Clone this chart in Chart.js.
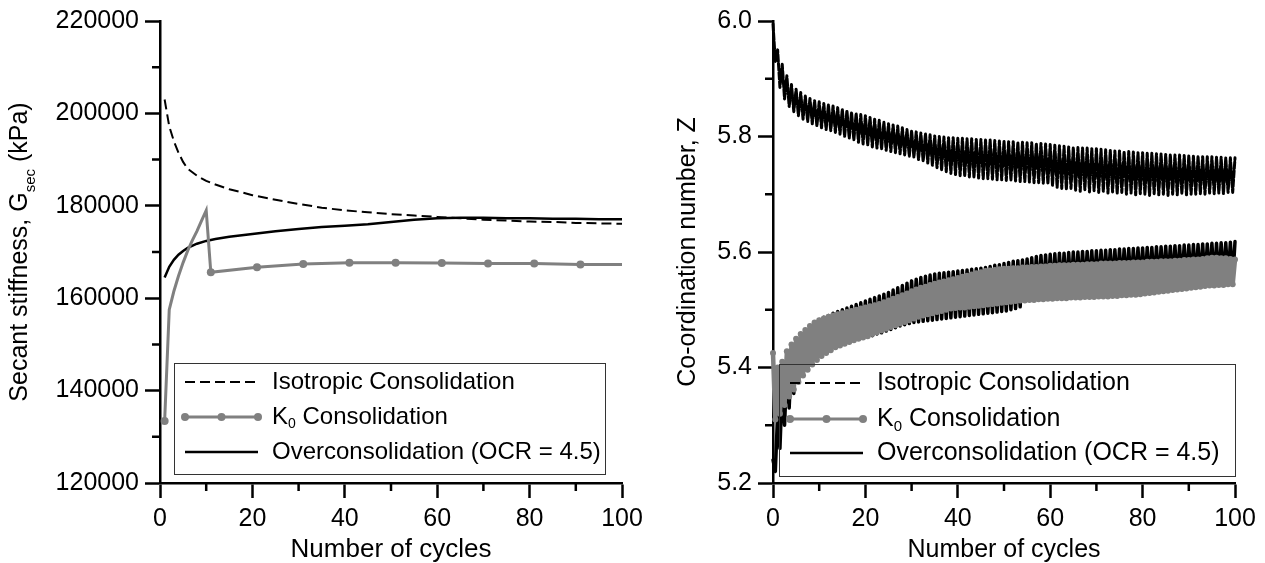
<!DOCTYPE html>
<html>
<head>
<meta charset="utf-8">
<script src="https://cdn.jsdelivr.net/npm/chart.js@4.4.1/dist/chart.umd.min.js"></script>
<style>
  html, body { margin: 0; padding: 0; background: #fff; }
  #wrap { position: relative; width: 1265px; height: 563px; }
  #wrap canvas { position: absolute; left: 0; top: 0; }
</style>
</head>
<body>
<div id="wrap">
  <canvas id="stiffChart" width="1265" height="563"></canvas>
  <canvas id="coordChart" width="1265" height="563"></canvas>
</div>
<script>
const FONT = "'Liberation Sans', Arial, sans-serif";

const seriesNames = ['Isotropic Consolidation', 'K0 Consolidation', 'Overconsolidation (OCR = 4.5)'];

// axis ticks
const cycleTicks = [0, 20, 40, 60, 80, 100];
const cycleMinorTicks = [10, 30, 50, 70, 90];
const stiffTicks = [120000, 140000, 160000, 180000, 200000, 220000];
const stiffMinorTicks = [130000, 150000, 170000, 190000, 210000];
const coordTicks = [5.2, 5.4, 5.6, 5.8, 6.0];
const coordMinorTicks = [5.3, 5.5, 5.7, 5.9];

// left panel: secant stiffness (kPa) against cycle number
const isoCycles = [1, 2, 3, 4, 5, 6, 8, 10, 12, 15, 20, 25, 30, 35, 40, 45, 50, 55, 60, 65, 70, 75, 80, 85, 90, 95, 100];
const isoStiffness = [203000, 197200, 194000, 191500, 189500, 188000, 186500, 185400, 184600, 183600, 182300, 181300, 180400,
  179600, 179000, 178600, 178200, 177900, 177600, 177300, 177000, 176800, 176600, 176500, 176300, 176200, 176100];
const ocCycles = [1, 2, 3, 4, 5, 6, 8, 10, 12, 15, 20, 25, 30, 35, 40, 45, 50, 55, 60, 65, 70, 75, 80, 85, 90, 95, 100];
const ocStiffness = [164500, 166800, 168300, 169400, 170200, 170900, 171800, 172400, 172800, 173300, 173900, 174500, 175000,
  175400, 175700, 176000, 176500, 177000, 177300, 177400, 177400, 177300, 177300, 177200, 177200, 177100, 177100];
const k0Cycles = [1, 2, 3, 4, 5, 6, 7, 8, 9, 10, 11, 21, 31, 41, 51, 61, 71, 81, 91, 100];
const k0Stiffness = [133400, 157500, 161500, 164800, 167700, 170300, 172500, 174500, 176800, 179000, 165600,
  166700, 167400, 167700, 167700, 167600, 167500, 167500, 167300, 167300];
const k0MarkerCycles = [1, 11, 21, 31, 41, 51, 61, 71, 81, 91];

// right panel: co-ordination number, peak (whole cycle) and trough (half cycle) values
const isoZPeaks = [5.995, 5.95, 5.925, 5.905, 5.89, 5.882, 5.876, 5.87, 5.866, 5.862, 5.86,
  5.857, 5.855, 5.853, 5.85, 5.847, 5.845, 5.842, 5.84, 5.838, 5.836,
  5.833, 5.83, 5.828, 5.825, 5.822, 5.82, 5.818, 5.815, 5.812, 5.81,
  5.808, 5.806, 5.805, 5.803, 5.801, 5.8, 5.799, 5.798, 5.798, 5.797,
  5.797, 5.796, 5.796, 5.795, 5.795, 5.794, 5.794, 5.793, 5.792, 5.792,
  5.791, 5.791, 5.79, 5.79, 5.789, 5.789, 5.788, 5.788, 5.787, 5.786,
  5.785, 5.784, 5.783, 5.782, 5.781, 5.781, 5.78, 5.78, 5.779, 5.779,
  5.778, 5.777, 5.776, 5.775, 5.775, 5.774, 5.774, 5.773, 5.772, 5.772,
  5.771, 5.771, 5.77, 5.77, 5.769, 5.769, 5.768, 5.768, 5.767, 5.767,
  5.766, 5.766, 5.765, 5.765, 5.765, 5.764, 5.764, 5.763, 5.763, 5.763];
const isoZTroughs = [5.93, 5.885, 5.865, 5.852, 5.843, 5.836, 5.83, 5.826, 5.822, 5.818, 5.815,
  5.812, 5.81, 5.807, 5.804, 5.80, 5.797, 5.794, 5.79, 5.787, 5.785,
  5.782, 5.78, 5.778, 5.776, 5.774, 5.772, 5.77, 5.768, 5.766, 5.764,
  5.76, 5.757, 5.754, 5.75, 5.746, 5.742, 5.739, 5.736, 5.734, 5.732,
  5.731, 5.73, 5.729, 5.728, 5.727, 5.727, 5.726, 5.725, 5.725, 5.724,
  5.724, 5.723, 5.722, 5.722, 5.721, 5.72, 5.72, 5.719, 5.718, 5.715,
  5.712, 5.71, 5.708, 5.71, 5.707, 5.705, 5.708, 5.704, 5.706, 5.703,
  5.705, 5.702, 5.704, 5.701, 5.703, 5.70, 5.702, 5.699, 5.701, 5.70,
  5.698, 5.701, 5.699, 5.70, 5.698, 5.70, 5.699, 5.701, 5.699, 5.70,
  5.70, 5.701, 5.70, 5.702, 5.701, 5.702, 5.701, 5.703, 5.703];
const k0ZPeaks = [5.425, 5.40, 5.41, 5.428, 5.44, 5.45, 5.458, 5.465, 5.472, 5.478, 5.482,
  5.485, 5.488, 5.49, 5.492, 5.494, 5.496, 5.498, 5.50, 5.502, 5.504,
  5.506, 5.508, 5.51, 5.513, 5.516, 5.519, 5.522, 5.525, 5.528, 5.532,
  5.535, 5.538, 5.54, 5.543, 5.545, 5.547, 5.549, 5.551, 5.553, 5.555,
  5.557, 5.559, 5.561, 5.563, 5.565, 5.567, 5.568, 5.569, 5.57, 5.571,
  5.571, 5.572, 5.572, 5.573, 5.573, 5.574, 5.574, 5.575, 5.575, 5.576,
  5.576, 5.577, 5.577, 5.577, 5.578, 5.578, 5.578, 5.579, 5.579, 5.579,
  5.58, 5.58, 5.58, 5.58, 5.581, 5.581, 5.581, 5.582, 5.582, 5.582,
  5.583, 5.583, 5.583, 5.584, 5.584, 5.584, 5.585, 5.585, 5.586, 5.586,
  5.587, 5.587, 5.588, 5.589, 5.59, 5.59, 5.589, 5.589, 5.588, 5.587];
const k0ZTroughs = [5.31, 5.32, 5.335, 5.35, 5.362, 5.375, 5.386, 5.396, 5.405, 5.413, 5.42,
  5.425, 5.43, 5.435, 5.438, 5.441, 5.444, 5.447, 5.45, 5.452, 5.454,
  5.458, 5.461, 5.464, 5.467, 5.47, 5.473, 5.476, 5.479, 5.482, 5.485,
  5.488, 5.49, 5.492, 5.494, 5.496, 5.498, 5.50, 5.502, 5.503, 5.504,
  5.504, 5.505, 5.506, 5.507, 5.508, 5.509, 5.51, 5.511, 5.512, 5.513,
  5.514, 5.515, 5.516, 5.516, 5.517, 5.517, 5.518, 5.518, 5.519, 5.519,
  5.52, 5.52, 5.52, 5.521, 5.521, 5.521, 5.522, 5.522, 5.522, 5.523,
  5.523, 5.523, 5.524, 5.524, 5.525, 5.525, 5.526, 5.526, 5.527, 5.528,
  5.529, 5.53, 5.531, 5.532, 5.533, 5.534, 5.535, 5.536, 5.537, 5.538,
  5.539, 5.54, 5.541, 5.542, 5.542, 5.543, 5.543, 5.544, 5.544];
const ocZPeaks = [5.24, 5.32, 5.37, 5.40, 5.425, 5.44, 5.452, 5.462, 5.47, 5.477, 5.483,
  5.487, 5.49, 5.494, 5.497, 5.50, 5.503, 5.506, 5.509, 5.512, 5.515,
  5.518, 5.521, 5.524, 5.527, 5.53, 5.534, 5.538, 5.542, 5.546, 5.55,
  5.553, 5.556, 5.558, 5.56, 5.562, 5.563, 5.564, 5.565, 5.566, 5.567,
  5.568, 5.569, 5.57, 5.571, 5.572, 5.573, 5.575, 5.577, 5.578, 5.58,
  5.582, 5.584, 5.585, 5.586, 5.588, 5.59, 5.592, 5.594, 5.595, 5.596,
  5.597, 5.598, 5.598, 5.599, 5.60, 5.60, 5.601, 5.601, 5.602, 5.602,
  5.603, 5.603, 5.604, 5.604, 5.605, 5.605, 5.606, 5.606, 5.607, 5.607,
  5.608, 5.608, 5.609, 5.609, 5.61, 5.61, 5.611, 5.611, 5.612, 5.612,
  5.613, 5.613, 5.614, 5.614, 5.615, 5.615, 5.616, 5.616, 5.617, 5.618];
const ocZTroughs = [5.22, 5.26, 5.30, 5.33, 5.355, 5.375, 5.39, 5.40, 5.41, 5.418, 5.425,
  5.428, 5.433, 5.437, 5.44, 5.443, 5.446, 5.449, 5.451, 5.453, 5.454,
  5.455, 5.458, 5.46, 5.463, 5.466, 5.469, 5.472, 5.474, 5.476, 5.478,
  5.479, 5.48, 5.481, 5.482, 5.483, 5.484, 5.485, 5.486, 5.487, 5.488,
  5.489, 5.49, 5.491, 5.492, 5.493, 5.494, 5.495, 5.496, 5.497, 5.498,
  5.50, 5.502, 5.505, 5.515, 5.518, 5.52, 5.522, 5.523, 5.524, 5.525,
  5.528, 5.529, 5.53, 5.531, 5.532, 5.533, 5.534, 5.535, 5.536, 5.537,
  5.537, 5.538, 5.538, 5.539, 5.539, 5.54, 5.54, 5.541, 5.541, 5.542,
  5.542, 5.543, 5.543, 5.544, 5.544, 5.545, 5.545, 5.546, 5.546, 5.547,
  5.547, 5.548, 5.548, 5.549, 5.549, 5.55, 5.55, 5.551, 5.551];

const toPoints = (xs, ys) => xs.map((x, i) => ({ x: x, y: ys[i] }));

// peaks sit on whole cycles, troughs on the half cycle after
const cyclePoints = (peaks, troughs) => {
  const pts = [];
  peaks.forEach((p, i) => {
    pts.push({ x: i, y: p });
    if (i < troughs.length) pts.push({ x: i + 0.5, y: troughs[i] });
  });
  return pts;
};

const legendRuns = [
  [{ t: 'Isotropic Consolidation' }],
  [{ t: 'K' }, { t: '0', sub: true }, { t: ' Consolidation' }],
  [{ t: 'Overconsolidation (OCR = 4.5)' }]
];

const runFont = (r, size) => (r.sub ? Math.round(size * 0.6) : size) + 'px ' + FONT;

const runsWidth = (ctx, runs, size) => {
  let w = 0;
  runs.forEach(r => { ctx.font = runFont(r, size); w += ctx.measureText(r.t).width; });
  return w;
};

const drawRuns = (ctx, runs, x, y, size) => {
  runs.forEach(r => {
    ctx.font = runFont(r, size);
    ctx.fillText(r.t, x, r.sub ? y + size * 0.3 : y);
    x += ctx.measureText(r.t).width;
  });
};

// legend with line samples, drawn over the data with no background
const lineLegend = {
  id: 'lineLegend',
  afterDatasetsDraw(chart, args, opts) {
    const ctx = chart.ctx;
    const b = opts.box;
    ctx.save();
    ctx.strokeStyle = '#333';
    ctx.lineWidth = 1;
    ctx.setLineDash([]);
    ctx.strokeRect(b.x + 0.5, b.y + 0.5, b.w, b.h);
    opts.samples.forEach((s, i) => {
      const y = b.y + opts.rows[i];
      const x0 = b.x + 11, x1 = b.x + 84;
      ctx.beginPath();
      ctx.setLineDash(s.dash || []);
      ctx.strokeStyle = s.color;
      ctx.lineWidth = s.width;
      ctx.moveTo(x0, y);
      ctx.lineTo(x1, y);
      ctx.stroke();
      ctx.setLineDash([]);
      if (s.marker) {
        ctx.fillStyle = s.color;
        [x0, (x0 + x1) / 2, x1].forEach(mx => {
          ctx.beginPath();
          ctx.arc(mx, y, 4, 0, Math.PI * 2);
          ctx.fill();
        });
      }
      ctx.fillStyle = '#000';
      ctx.textAlign = 'left';
      ctx.textBaseline = 'middle';
      drawRuns(ctx, legendRuns[i], b.x + 98, y, opts.fontSize);
    });
    ctx.restore();
  }
};

// short ticks between the labelled ones
const minorTicks = {
  id: 'minorTicks',
  afterDraw(chart, args, opts) {
    const { ctx, chartArea: a, scales } = chart;
    ctx.save();
    ctx.strokeStyle = '#000';
    ctx.lineWidth = 2.5;
    ctx.beginPath();
    opts.x.forEach(v => {
      const px = scales.x.getPixelForValue(v);
      ctx.moveTo(px, a.bottom);
      ctx.lineTo(px, a.bottom + 8);
    });
    opts.y.forEach(v => {
      const py = scales.y.getPixelForValue(v);
      ctx.moveTo(a.left, py);
      ctx.lineTo(a.left - 8, py);
    });
    ctx.stroke();
    ctx.restore();
  }
};

// axis titles, the y one may carry a subscript
const axisTitles = {
  id: 'axisTitles',
  afterDraw(chart, args, opts) {
    const { ctx, chartArea: a } = chart;
    const size = 25;
    ctx.save();
    ctx.fillStyle = '#000';
    ctx.textAlign = 'left';
    ctx.textBaseline = 'alphabetic';
    const xw = runsWidth(ctx, opts.x, opts.xSize);
    drawRuns(ctx, opts.x, (a.left + a.right) / 2 - xw / 2, opts.xBaseline, opts.xSize);
    ctx.translate(opts.yBaseline, (a.top + a.bottom) / 2);
    ctx.rotate(-Math.PI / 2);
    const yw = runsWidth(ctx, opts.y, size);
    drawRuns(ctx, opts.y, -yw / 2, 0, size);
    ctx.restore();
  }
};

const makeScales = (yTicks, yMin, yMax, yWidth, yLabel) => {
  const axisGrid = { drawOnChartArea: false, drawTicks: true, tickLength: 15, tickWidth: 2.5, tickColor: '#000' };
  const axisBorder = { display: true, color: '#000', width: 2.5 };
  return {
    x: {
      type: 'linear', min: 0, max: 100,
      afterBuildTicks: s => { s.ticks = cycleTicks.map(v => ({ value: v })); },
      afterFit: s => { s.height = 80; },
      grid: axisGrid, border: axisBorder,
      ticks: { color: '#000', font: { size: 25 }, padding: 6, maxRotation: 0, autoSkip: false, callback: v => String(v) }
    },
    y: {
      type: 'linear', min: yMin, max: yMax,
      afterBuildTicks: s => { s.ticks = yTicks.map(v => ({ value: v })); },
      afterFit: s => { s.width = yWidth; },
      grid: axisGrid, border: axisBorder,
      ticks: { color: '#000', font: { size: 25 }, padding: 6, autoSkip: false, callback: yLabel }
    }
  };
};

Chart.defaults.font.family = FONT;
Chart.defaults.color = '#000';

const GREY = '#808080';

const stiffChart = new Chart(document.getElementById('stiffChart'), {
  type: 'line',
  data: {
    datasets: [{
      label: seriesNames[0],
      data: toPoints(isoCycles, isoStiffness),
      borderColor: '#000', borderWidth: 2, borderDash: [10, 5], pointRadius: 0
    }, {
      label: seriesNames[1],
      data: toPoints(k0Cycles, k0Stiffness),
      borderColor: GREY, borderWidth: 3,
      pointRadius: ctx => (ctx.raw && k0MarkerCycles.includes(ctx.raw.x) ? 4 : 0),
      pointBackgroundColor: GREY, pointBorderWidth: 0
    }, {
      label: seriesNames[2],
      data: toPoints(ocCycles, ocStiffness),
      borderColor: '#000', borderWidth: 2.5, pointRadius: 0
    }]
  },
  options: {
    responsive: false,
    animation: false,
    events: [],
    clip: 8,
    layout: { padding: { left: 0, top: 20, right: 643, bottom: 0 } },
    scales: makeScales(stiffTicks, 120000, 220000, 160, v => String(v)),
    plugins: {
      legend: { display: false },
      tooltip: { enabled: false },
      lineLegend: {
        box: { x: 174, y: 363, w: 431, h: 111 },
        rows: [19, 54, 89],
        fontSize: 24,
        samples: [
          { color: '#000', width: 2, dash: [10, 5] },
          { color: GREY, width: 3, marker: true },
          { color: '#000', width: 2.5 }
        ]
      },
      minorTicks: { x: cycleMinorTicks, y: stiffMinorTicks },
      axisTitles: {
        x: [{ t: 'Number of cycles' }], xBaseline: 557, xSize: 26,
        y: [{ t: 'Secant stiffness, G' }, { t: 'sec', sub: true }, { t: ' (kPa)' }], yBaseline: 27
      }
    }
  },
  plugins: [lineLegend, minorTicks, axisTitles]
});

const coordChart = new Chart(document.getElementById('coordChart'), {
  type: 'line',
  data: {
    datasets: [{
      label: seriesNames[0],
      data: cyclePoints(isoZPeaks, isoZTroughs),
      borderColor: '#000', borderWidth: 3, borderDash: [7, 2],
      borderJoinStyle: 'round', borderCapStyle: 'round', pointRadius: 0
    }, {
      label: seriesNames[1],
      data: cyclePoints(k0ZPeaks, k0ZTroughs),
      borderColor: GREY, borderWidth: 4.5, borderJoinStyle: 'round', borderCapStyle: 'round',
      pointRadius: 3, pointBackgroundColor: GREY, pointBorderWidth: 0
    }, {
      label: seriesNames[2],
      data: cyclePoints(ocZPeaks, ocZTroughs),
      borderColor: '#000', borderWidth: 3.5, borderJoinStyle: 'round', borderCapStyle: 'round', pointRadius: 0
    }]
  },
  options: {
    responsive: false,
    animation: false,
    events: [],
    clip: 8,
    layout: { padding: { left: 633, top: 20, right: 30, bottom: 0 } },
    scales: makeScales(coordTicks, 5.2, 6.0, 140, v => v.toFixed(1)),
    plugins: {
      legend: { display: false },
      tooltip: { enabled: false },
      lineLegend: {
        box: { x: 779, y: 364, w: 456, h: 112 },
        rows: [19, 55, 89],
        fontSize: 25,
        samples: [
          { color: '#000', width: 2, dash: [10, 5] },
          { color: GREY, width: 3, marker: true },
          { color: '#000', width: 2.5 }
        ]
      },
      minorTicks: { x: cycleMinorTicks, y: coordMinorTicks },
      axisTitles: {
        x: [{ t: 'Number of cycles' }], xBaseline: 557, xSize: 25,
        y: [{ t: 'Co-ordination number, Z' }], yBaseline: 695
      }
    }
  },
  plugins: [lineLegend, minorTicks, axisTitles]
});
</script>
</body>
</html>
